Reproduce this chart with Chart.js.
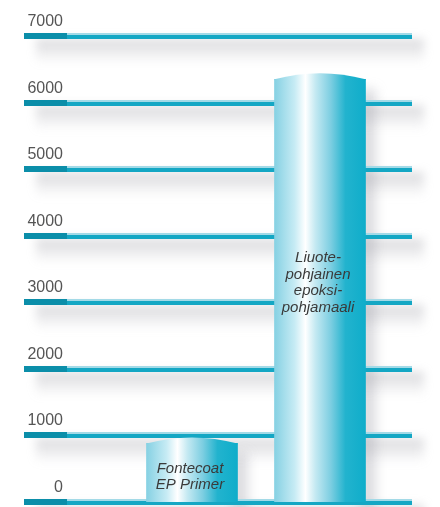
<!DOCTYPE html>
<html>
<head>
<meta charset="utf-8">
<script src="https://cdn.jsdelivr.net/npm/chart.js@4"></script>
<style>
  html, body { margin: 0; padding: 0; background: #fff; }
  #wrap { width: 440px; height: 507px; }
</style>
</head>
<body>
<div id="wrap"><canvas id="barChart" width="440" height="507"></canvas></div>
<script>
// Tiedot
const categories = [['Fontecoat', 'EP Primer'], ['Liuote-', 'pohjainen', 'epoksi-', 'pohjamaali']];
const values = [880, 6350];
const yTicks = [0, 1000, 2000, 3000, 4000, 5000, 6000, 7000];

const FONT = '"Liberation Sans", Arial, sans-serif';

function barGradient(ctx, left, right) {
  const g = ctx.createLinearGradient(left, 0, right, 0);
  g.addColorStop(0, '#86d1e3');
  g.addColorStop(0.22, '#c6ebf4');
  g.addColorStop(0.34, '#ffffff');
  g.addColorStop(0.45, '#c4e9f2');
  g.addColorStop(0.62, '#7ccee1');
  g.addColorStop(0.78, '#22b3ce');
  g.addColorStop(1, '#0fadca');
  return g;
}

// Taustaviivat, varjot ja asteikon numerot
const gridPlugin = {
  id: 'gridLines',
  beforeDatasetsDraw(chart) {
    const ctx = chart.ctx;
    const y = chart.scales.y;
    const left = 24, right = 412;
    ctx.save();
    // varjot viivojen alla
    yTicks.forEach(v => {
      const py = y.getPixelForValue(v);
      ctx.save();
      ctx.filter = 'blur(5px)';
      const g = ctx.createLinearGradient(0, py + 3, 0, py + 28);
      g.addColorStop(0, 'rgba(160,160,168,0.4)');
      g.addColorStop(1, 'rgba(160,160,168,0)');
      ctx.fillStyle = g;
      ctx.fillRect(left + 12, py + 3, right - left, 24);
      ctx.restore();
    });
    // pylväiden varjot oikealla
    chart.getDatasetMeta(0).data.forEach(bar => {
      const p = bar.getProps(['x', 'y', 'base', 'width'], true);
      ctx.save();
      ctx.filter = 'blur(6px)';
      ctx.fillStyle = 'rgba(150,150,160,0.35)';
      ctx.fillRect(p.x + p.width / 2 - 6, p.y + 10, 16, p.base - p.y);
      ctx.restore();
    });
    // viivat
    yTicks.forEach(v => {
      const py = Math.round(y.getPixelForValue(v));
      ctx.fillStyle = '#14a7c4';
      ctx.fillRect(left, py - 3, right - left, 6);
      ctx.fillStyle = '#a3dae7';
      ctx.fillRect(67, py - 3, right - 67, 2);
      ctx.fillStyle = '#0b8ea9';
      ctx.fillRect(left, py - 3, 67 - left, 6);
      // numerot
      ctx.fillStyle = '#555';
      ctx.font = '16px ' + FONT;
      ctx.textAlign = 'right';
      ctx.textBaseline = 'alphabetic';
      ctx.fillText(String(v), 63, py - 10);
    });
    ctx.restore();
  },
  afterDatasetsDraw(chart) {
    const ctx = chart.ctx;
    ctx.save();
    chart.getDatasetMeta(0).data.forEach((bar, i) => {
      const p = bar.getProps(['x', 'y', 'base', 'width'], true);
      const l = p.x - p.width / 2, r = p.x + p.width / 2;
      // kaareva yläreuna
      ctx.fillStyle = barGradient(ctx, l, r);
      ctx.beginPath();
      ctx.moveTo(l, p.y + 1);
      ctx.lineTo(l, p.y);
      ctx.quadraticCurveTo(p.x, p.y - 12, r, p.y);
      ctx.lineTo(r, p.y + 1);
      ctx.closePath();
      ctx.fill();
      // nimi pylvään sisällä
      const lines = chart.data.labels[i];
      const lh = 16.5;
      const mid = (p.y + p.base) / 2 - (i === 1 ? 8 : -4);
      ctx.fillStyle = '#3a3a3a';
      ctx.font = 'italic 15px ' + FONT;
      ctx.textAlign = 'center';
      ctx.textBaseline = 'middle';
      lines.forEach((t, k) => {
        ctx.fillText(t, p.x - 2, mid + (k - (lines.length - 1) / 2) * lh);
      });
    });
    ctx.restore();
  }
};

new Chart(document.getElementById('barChart').getContext('2d'), {
  type: 'bar',
  data: {
    labels: categories,
    datasets: [{
      data: values,
      barThickness: 91,
      borderWidth: 0,
      backgroundColor: function (c) {
        const chart = c.chart;
        if (!chart.chartArea) return '#7fd0e2';
        const cx = chart.scales.x.getPixelForValue(c.dataIndex);
        return barGradient(chart.ctx, cx - 45.5, cx + 45.5);
      }
    }]
  },
  options: {
    responsive: false,
    animation: false,
    devicePixelRatio: 1,
    layout: { padding: { left: 128, right: 56, top: 36, bottom: 5 } },
    plugins: {
      legend: { display: false },
      tooltip: { enabled: false }
    },
    scales: {
      x: { display: false, offset: true, grid: { display: false } },
      y: { display: false, min: 0, max: 7000, grid: { display: false } }
    }
  },
  plugins: [gridPlugin]
});
</script>
</body>
</html>
